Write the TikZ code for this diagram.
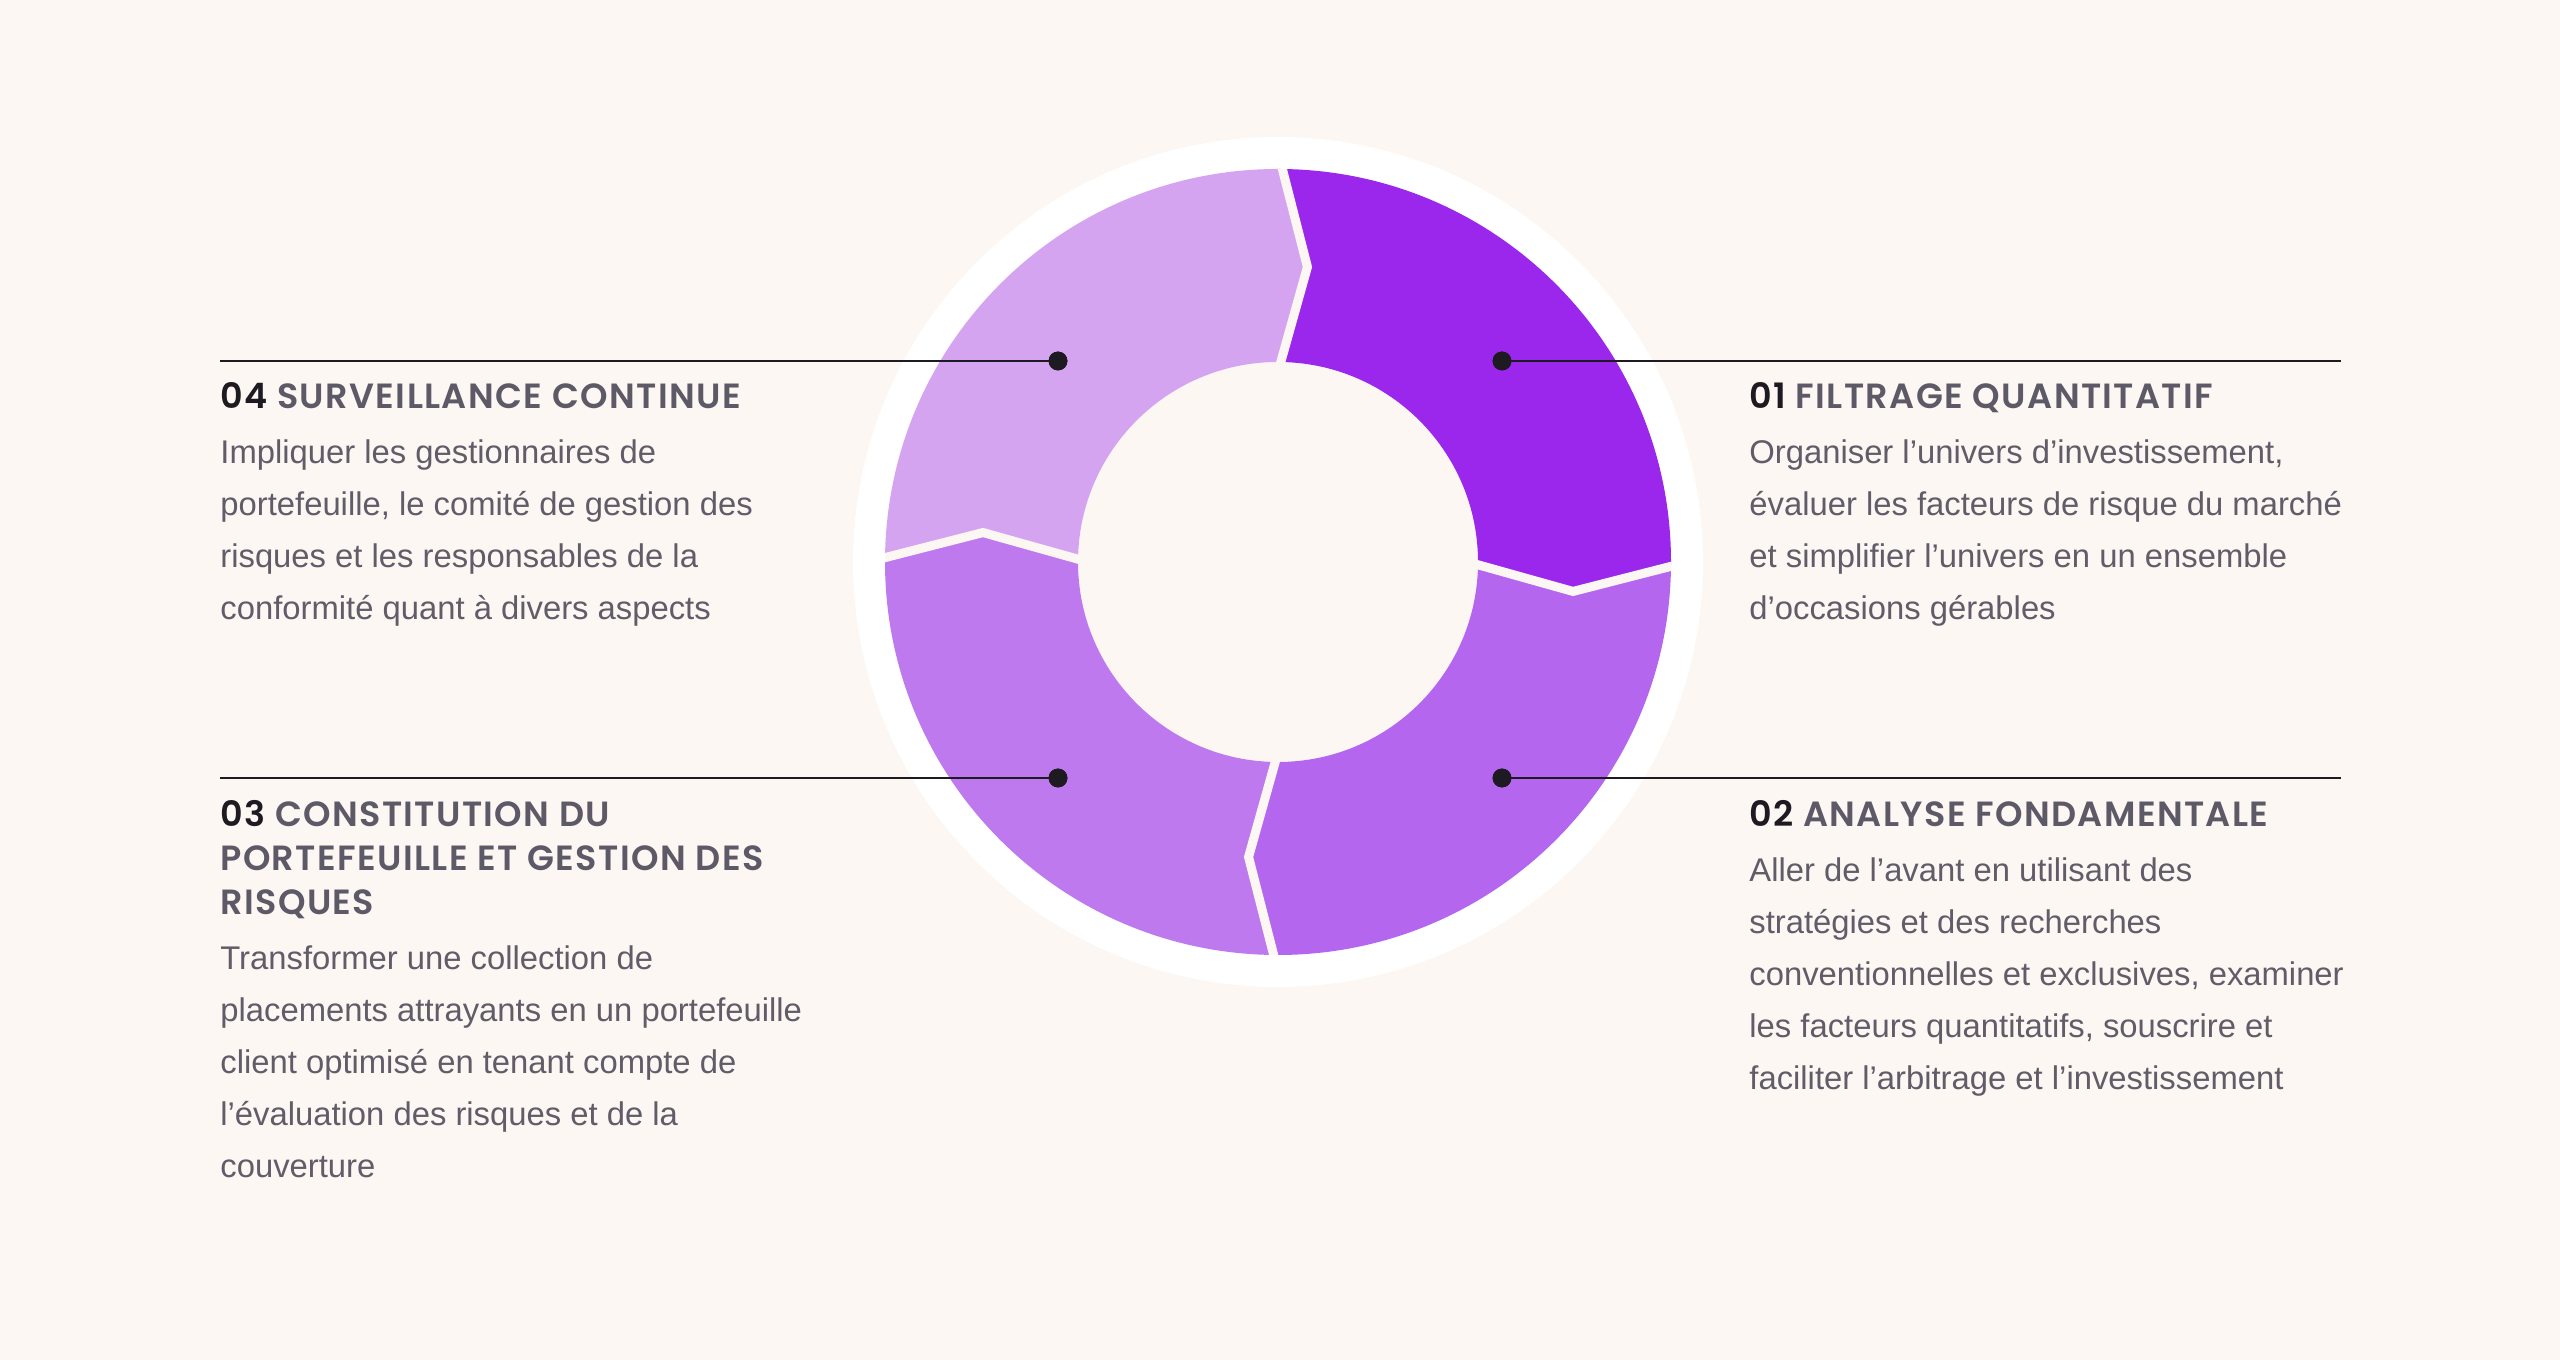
\documentclass[tikz,border=0pt]{standalone}
\usepackage{fontspec}
\setmainfont{Liberation Sans}
\newfontfamily\headfont{Poppins SemiBold}[LetterSpace=4]
\usetikzlibrary{positioning}
\definecolor{paper}{HTML}{FCF7F3}
\definecolor{ink}{HTML}{1E1A21}
\definecolor{headgray}{HTML}{5E5966}
\definecolor{bodygray}{HTML}{615C68}
\definecolor{seg1}{HTML}{9A27EB}
\definecolor{seg2}{HTML}{B566EE}
\definecolor{seg3}{HTML}{BE79EF}
\definecolor{seg4}{HTML}{D4A4F1}
\tikzset{%
   dot/.style={circle, inner sep=0mm, outer sep=0mm, minimum size=9pt, draw=ink, fill=ink},
   lead/.style={draw=ink, line width=1.4pt},
   head/.style={anchor=base west, inner sep=0pt, align=left, text=headgray,
     font=\headfont\fontsize{17.5}{22}\selectfont},
   body/.style={anchor=base west, inner sep=0pt, align=left, text=bodygray,
     font=\fontsize{16.4}{26}\selectfont},
}

\begin{document}
\begin{tikzpicture}[x=0.5pt, y=0.5pt]
   \fill[paper] (0,0) rectangle (2560,1360);
   \useasboundingbox (0,0) rectangle (2560,1360);
   % ring
   \fill[white] (1278,798) circle[radius=425];
   \begin{scope}[shift={(1278,798)}]
      \fill[paper] (0,0) circle[radius=200];
      \foreach \a/\c in {90/seg1, 0/seg2, -90/seg3, 180/seg4}{
         \fill[\c] (\a:393) arc[start angle=\a, end angle=\a-90, radius=393]
            -- (\a-95.7:296.5) -- (\a-90:200)
            arc[start angle=\a-90, end angle=\a, radius=200]
            -- (\a-5.7:296.5) -- cycle;
      }
      \begin{scope}
         \clip (0,0) circle[radius=393];
         \foreach \a in {90, 0, -90, 180}
            \draw[paper, line width=4.5pt, line join=miter] (\a:410) -- (\a-5.7:296.5) -- (\a:190);
      \end{scope}
   \end{scope}
   % dots and leads
   \node[dot] (d1) at (1502,999) {};
   \node[dot] (d2) at (1502,582) {};
   \node[dot] (d3) at (1058,582) {};
   \node[dot] (d4) at (1058,999) {};
   \coordinate (e1) at (2341,999);
   \coordinate (e2) at (2341,582);
   \coordinate (e3) at (220,582);
   \coordinate (e4) at (220,999);
   \foreach \i in {1,...,4}
      \draw[lead] (d\i.center) -- (e\i);
   \foreach \i in {1,...,4}
      \node[dot] at (d\i) {};
   % texts (base = last line)
   \node[head] (t1) at (1749,951.5) {\textcolor{ink}{01} FILTRAGE QUANTITATIF};
   \node[body] (b1) at ([yshift=-105.75pt]t1.base west) {Organiser l’univers d’investissement,\\
      évaluer les facteurs de risque du marché\\
      et simplifier l’univers en un ensemble\\
      d’occasions gérables};
   \node[head] (t2) at (1749,533.5) {\textcolor{ink}{02} ANALYSE FONDAMENTALE};
   \node[body] (b2) at ([yshift=-131.75pt]t2.base west) {Aller de l’avant en utilisant des\\
      stratégies et des recherches\\
      conventionnelles et exclusives, examiner\\
      les facteurs quantitatifs, souscrire et\\
      faciliter l’arbitrage et l’investissement};
   \node[head] (t3) at (220,445.5) {\textcolor{ink}{03} CONSTITUTION DU\\
      PORTEFEUILLE ET GESTION DES\\
      RISQUES};
   \node[body] (b3) at ([yshift=-131.75pt]t3.base west) {Transformer une collection de\\
      placements attrayants en un portefeuille\\
      client optimisé en tenant compte de\\
      l’évaluation des risques et de la\\
      couverture};
   \node[head] (t4) at (220,951.5) {\textcolor{ink}{04} SURVEILLANCE CONTINUE};
   \node[body] (b4) at ([yshift=-105.75pt]t4.base west) {Impliquer les gestionnaires de\\
      portefeuille, le comité de gestion des\\
      risques et les responsables de la\\
      conformité quant à divers aspects};
\end{tikzpicture}
\end{document}
